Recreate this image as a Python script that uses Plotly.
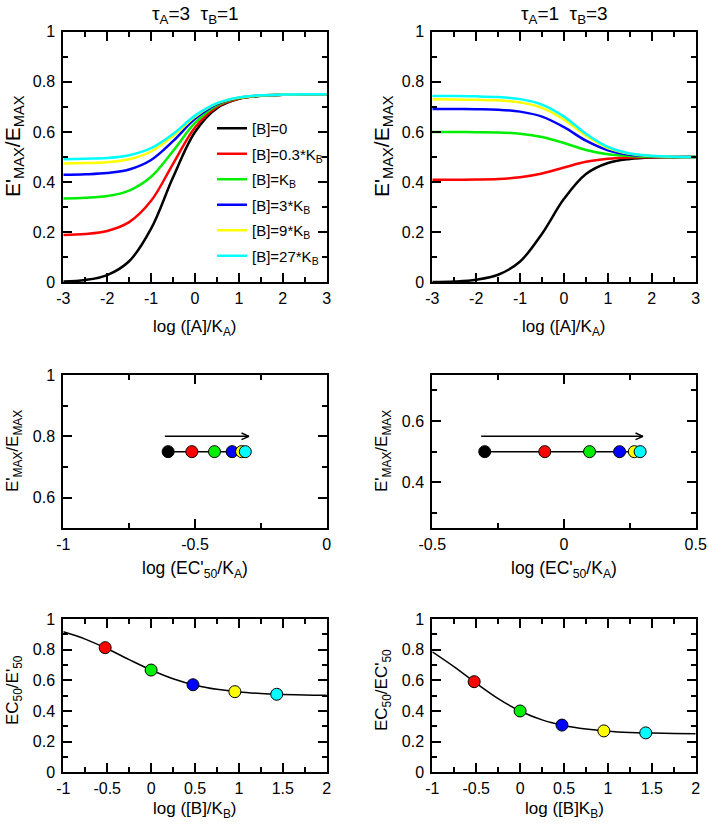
import plotly.graph_objects as go

FONT = "Liberation Sans, Arial, Helvetica, sans-serif"
W, H = 708, 824

# ---------------- data ----------------
series_names = ["[B]=0", "[B]=0.3*K<sub>B</sub>", "[B]=K<sub>B</sub>",
                "[B]=3*K<sub>B</sub>", "[B]=9*K<sub>B</sub>", "[B]=27*K<sub>B</sub>"]
series_colors = ["#000000", "#ff0000", "#00ee00", "#0000ff", "#ffff00", "#00ffff"]

logA = [-3, -2.5, -2, -1.5, -1, -0.5, 0, 0.5, 1, 1.5, 2, 2.5, 3]

# tau_A=3, tau_B=1
left_B0 = [0.003, 0.009, 0.029, 0.084, 0.214, 0.419, 0.600, 0.695, 0.732, 0.744, 0.748, 0.749, 0.750]
left_B03 = [0.189, 0.193, 0.205, 0.240, 0.325, 0.473, 0.618, 0.700, 0.733, 0.745, 0.748, 0.749, 0.750]
left_B1 = [0.334, 0.337, 0.344, 0.366, 0.421, 0.524, 0.636, 0.706, 0.735, 0.745, 0.748, 0.750, 0.750]
left_B3 = [0.429, 0.431, 0.436, 0.450, 0.488, 0.563, 0.652, 0.711, 0.737, 0.746, 0.749, 0.750, 0.750]
left_B9 = [0.474, 0.476, 0.479, 0.491, 0.522, 0.584, 0.661, 0.714, 0.737, 0.746, 0.749, 0.750, 0.750]
left_B27 = [0.491, 0.493, 0.496, 0.507, 0.535, 0.592, 0.665, 0.715, 0.738, 0.746, 0.749, 0.750, 0.750]

# tau_A=1, tau_B=3
right_B0 = [0.001, 0.003, 0.010, 0.030, 0.083, 0.194, 0.333, 0.432, 0.476, 0.492, 0.498, 0.499, 0.500]
right_B03 = [0.409, 0.409, 0.410, 0.412, 0.419, 0.434, 0.458, 0.481, 0.493, 0.498, 0.499, 0.500, 0.500]
right_B1 = [0.600, 0.600, 0.599, 0.598, 0.593, 0.580, 0.556, 0.528, 0.511, 0.504, 0.501, 0.500, 0.500]
right_B3 = [0.692, 0.692, 0.691, 0.689, 0.681, 0.661, 0.619, 0.565, 0.527, 0.509, 0.503, 0.501, 0.500]
right_B9 = [0.730, 0.729, 0.728, 0.726, 0.718, 0.696, 0.649, 0.585, 0.536, 0.513, 0.504, 0.501, 0.500]
right_B27 = [0.743, 0.743, 0.742, 0.739, 0.731, 0.709, 0.661, 0.593, 0.540, 0.514, 0.505, 0.501, 0.500]

# middle panels: log(EC'50/KA) vs E'max/Emax
logEC50_left = [-0.602, -0.512, -0.426, -0.359, -0.323, -0.309]
emax_left = [0.75, 0.75, 0.75, 0.75, 0.75, 0.75]
logEC50_right = [-0.301, -0.073, 0.097, 0.211, 0.267, 0.289]
emax_right = [0.5, 0.5, 0.5, 0.5, 0.5, 0.5]
arrow_left_x = [-0.62, -0.295]
arrow_left_y = 0.80
arrow_right_x = [-0.32, 0.30]
arrow_right_y = 0.55

# bottom panels: EC50 ratio vs log([B]/KB)
logB_curve = [-1, -0.75, -0.5, -0.25, 0, 0.25, 0.5, 0.75, 1, 1.25, 1.5, 1.75, 2]
ratio_left_curve = [0.917, 0.869, 0.806, 0.735, 0.667, 0.610, 0.568, 0.541, 0.524, 0.514, 0.508, 0.504, 0.502]
ratio_right_curve = [0.786, 0.688, 0.581, 0.481, 0.400, 0.342, 0.305, 0.282, 0.268, 0.260, 0.256, 0.253, 0.252]
logB_pts = [-0.523, 0, 0.477, 0.954, 1.431]
ratio_left_pts = [0.813, 0.667, 0.571, 0.526, 0.509]
ratio_right_pts = [0.591, 0.400, 0.308, 0.270, 0.257]

# tick labels
top_xticks = [-3, -2, -1, 0, 1, 2, 3]
top_xtext = ["-3", "-2", "-1", "0", "1", "2", "3"]
y01_ticks = [0, 0.2, 0.4, 0.6, 0.8, 1]
y01_text = ["0", "0.2", "0.4", "0.6", "0.8", "1"]
ml_xticks = [-1, -0.5, 0]
ml_xtext = ["-1", "-0.5", "0"]
ml_yticks = [0.6, 0.8, 1]
ml_ytext = ["0.6", "0.8", "1"]
mr_xticks = [-0.5, 0, 0.5]
mr_xtext = ["-0.5", "0", "0.5"]
mr_yticks = [0.4, 0.6]
mr_ytext = ["0.4", "0.6"]
bot_xticks = [-1, -0.5, 0, 0.5, 1, 1.5, 2]
bot_xtext = ["-1", "-0.5", "0", "0.5", "1", "1.5", "2"]

# ---------------- layout helpers ----------------
def dom_x(a, b):
    return [a / W, b / W]

def dom_y(top, bottom):
    return [1 - bottom / H, 1 - top / H]

def axis(domain, rng, tickvals, ticktext, minor_dtick, anchor, standoff):
    return dict(
        domain=domain, range=rng, anchor=anchor, automargin=False,
        showline=True, linewidth=2, linecolor="black", mirror="allticks",
        ticks="inside", ticklen=9, tickwidth=1.5, tickcolor="black",
        tickvals=tickvals, ticktext=ticktext,
        tickfont=dict(family=FONT, size=16, color="black"),
        ticklabelstandoff=standoff,
        showgrid=False, zeroline=False,
        minor=dict(ticks="inside", ticklen=5, tickwidth=1.5, tickcolor="black",
                   dtick=minor_dtick, tick0=0, showgrid=False),
    )

fig = go.Figure()

left_sets = [left_B0, left_B03, left_B1, left_B3, left_B9, left_B27]
right_sets = [right_B0, right_B03, right_B1, right_B3, right_B9, right_B27]

for i, (name, col, ys) in enumerate(zip(series_names, series_colors, left_sets)):
    fig.add_trace(go.Scatter(x=logA, y=ys, mode="lines", name=name, legendgroup=f"g{i}",
                             line=dict(color=col, width=2.5, shape="spline"),
                             xaxis="x", yaxis="y", showlegend=True))
for name, col, ys in zip(series_names, series_colors, right_sets):
    fig.add_trace(go.Scatter(x=logA, y=ys, mode="lines", name=name,
                             line=dict(color=col, width=2.5, shape="spline"),
                             xaxis="x2", yaxis="y2", showlegend=False))

fig.add_trace(go.Scatter(x=logEC50_left, y=emax_left, mode="lines+markers",
                         line=dict(color="black", width=1.5),
                         marker=dict(size=12, color=series_colors, line=dict(color="black", width=1)),
                         xaxis="x3", yaxis="y3", showlegend=False))
fig.add_trace(go.Scatter(x=logEC50_right, y=emax_right, mode="lines+markers",
                         line=dict(color="black", width=1.5),
                         marker=dict(size=12, color=series_colors, line=dict(color="black", width=1)),
                         xaxis="x4", yaxis="y4", showlegend=False))

fig.add_trace(go.Scatter(x=logB_curve, y=ratio_left_curve, mode="lines",
                         line=dict(color="black", width=1.5, shape="spline"),
                         xaxis="x5", yaxis="y5", showlegend=False))
fig.add_trace(go.Scatter(x=logB_pts, y=ratio_left_pts, mode="markers",
                         marker=dict(size=12, color=series_colors[1:], line=dict(color="black", width=1)),
                         xaxis="x5", yaxis="y5", showlegend=False))
fig.add_trace(go.Scatter(x=logB_curve, y=ratio_right_curve, mode="lines",
                         line=dict(color="black", width=1.5, shape="spline"),
                         xaxis="x6", yaxis="y6", showlegend=False))
fig.add_trace(go.Scatter(x=logB_pts, y=ratio_right_pts, mode="markers",
                         marker=dict(size=12, color=series_colors[1:], line=dict(color="black", width=1)),
                         xaxis="x6", yaxis="y6", showlegend=False))

LX = dom_x(63.3, 326.7)
RX = dom_x(432.3, 695.7)
TY = dom_y(31.7, 282.3)
MY = dom_y(375, 528.3)
BY = dom_y(619, 772.3)

XS, YS = 0, 3
layout_axes = dict(
    xaxis=axis(LX, [-3, 3], top_xticks, top_xtext, 0.5, "y", XS),
    yaxis=axis(TY, [0, 1], y01_ticks, y01_text, 0.1, "x", YS),
    xaxis2=axis(RX, [-3, 3], top_xticks, top_xtext, 0.5, "y2", XS),
    yaxis2=axis(TY, [0, 1], y01_ticks, y01_text, 0.1, "x2", YS),
    xaxis3=axis(LX, [-1, 0], ml_xticks, ml_xtext, 0.25, "y3", XS),
    yaxis3=axis(MY, [0.5, 1], ml_yticks, ml_ytext, 0.1, "x3", YS),
    xaxis4=axis(RX, [-0.5, 0.5], mr_xticks, mr_xtext, 0.25, "y4", XS),
    yaxis4=axis(MY, [0.25, 0.75], mr_yticks, mr_ytext, 0.1, "x4", YS),
    xaxis5=axis(LX, [-1, 2], bot_xticks, bot_xtext, 0.25, "y5", XS),
    yaxis5=axis(BY, [0, 1], y01_ticks, y01_text, 0.1, "x5", YS),
    xaxis6=axis(RX, [-1, 2], bot_xticks, bot_xtext, 0.25, "y6", XS),
    yaxis6=axis(BY, [0, 1], y01_ticks, y01_text, 0.1, "x6", YS),
)

def txt(text, px, py, size, angle=0):
    return dict(text=text, x=px / W, y=1 - py / H, xref="paper", yref="paper",
                showarrow=False, xanchor="center", yanchor="middle", textangle=angle,
                font=dict(family=FONT, size=size, color="black"))

annotations = [
    txt("τ<sub>A</sub>=3  τ<sub>B</sub>=1", 195, 15, 19),
    txt("τ<sub>A</sub>=1  τ<sub>B</sub>=3", 564, 15, 19),
    txt("log ([A]/K<sub>A</sub>)", 195, 328, 17),
    txt("log ([A]/K<sub>A</sub>)", 564, 328, 17),
    txt("E'<sub>MAX</sub>/E<sub>MAX</sub>", 14, 146, 21, -90),
    txt("E'<sub>MAX</sub>/E<sub>MAX</sub>", 383, 146, 21, -90),
    txt("log (EC'<sub>50</sub>/K<sub>A</sub>)", 195, 569, 17.5),
    txt("log (EC'<sub>50</sub>/K<sub>A</sub>)", 564, 569, 17.5),
    txt("E'<sub>MAX</sub>/E<sub>MAX</sub>", 14, 451, 17, -90),
    txt("E'<sub>MAX</sub>/E<sub>MAX</sub>", 383, 451, 17, -90),
    txt("log ([B]/K<sub>B</sub>)", 195, 810, 17),
    txt("log ([B]K<sub>B</sub>)", 564, 810, 17),
    txt("EC<sub>50</sub>/E'<sub>50</sub>", 14, 690, 17, -90),
    txt("EC<sub>50</sub>/EC'<sub>50</sub>", 383, 690, 17, -90),
]

def arrow(xs, y, xr, yr):
    base = dict(text="", showarrow=True, arrowhead=0, arrowwidth=1.5, arrowcolor="black",
                standoff=0, startstandoff=0, xref=xr, yref=yr)
    out = [dict(base, x=xs[1], y=y, ax=xs[0], ay=y, axref=xr, ayref=yr)]
    out.append(dict(base, x=xs[1], y=y, ax=-9, ay=-4, axref="pixel", ayref="pixel"))
    out.append(dict(base, x=xs[1], y=y, ax=-9, ay=4, axref="pixel", ayref="pixel"))
    return out

annotations += arrow(arrow_left_x, arrow_left_y, "x3", "y3")
annotations += arrow(arrow_right_x, arrow_right_y, "x4", "y4")

fig.update_layout(
    width=W, height=H,
    margin=dict(l=0, r=0, t=0, b=0),
    paper_bgcolor="white", plot_bgcolor="white",
    font=dict(family=FONT, size=16, color="black"),
    legend=dict(x=212 / W, y=1 - 112 / H, xanchor="left", yanchor="top",
                bgcolor="rgba(0,0,0,0)", font=dict(family=FONT, size=15, color="black"),
                itemwidth=30, tracegroupgap=3),
    annotations=annotations,
    **layout_axes,
)

fig.write_html(
    "out.html",
    config={"displayModeBar": False},
    post_script="document.body.style.margin='0';document.body.style.padding='0';",
)
